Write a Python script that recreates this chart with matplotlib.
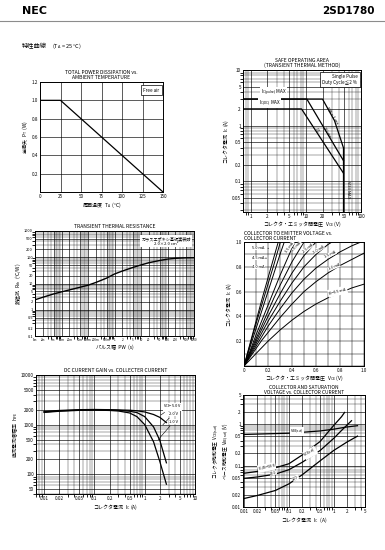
import numpy as np
import matplotlib
matplotlib.use("Agg")
import matplotlib.pyplot as plt
from matplotlib.ticker import NullFormatter

plt.rcParams['font.family'] = ['Noto Sans CJK JP', 'DejaVu Sans']
plt.rcParams['mathtext.fontset'] = 'custom'
plt.rcParams['mathtext.rm'] = 'Noto Sans CJK JP'
plt.rcParams['mathtext.it'] = 'Noto Sans CJK JP'
plt.rcParams['mathtext.bf'] = 'Noto Sans CJK JP:bold'

# --- data ---
# total power dissipation vs ambient temperature
ta = [0, 25, 150]
pt = [1.0, 1.0, 0.0]

# safe operating area
soa_dc_v = [0.7, 8.3, 48]
soa_dc_i = [2.0, 2.0, 0.14]
soa_10ms_v = [0.7, 10.4, 48]
soa_10ms_i = [3.0, 3.0, 0.235]
soa_1ms_v = [0.7, 20, 33, 48]
soa_1ms_i = [3.0, 3.0, 1.23, 0.40]
vceo_v = [48, 48]
vceo_i = [0.40, 0.028]

# transient thermal resistance
pw = [0.001, 0.002, 0.005, 0.01, 0.02, 0.05, 0.1, 0.2, 0.5, 1, 2, 5, 10, 20, 50, 100, 200, 500, 1000]
rth = [2.4, 3.0, 4.0, 4.8, 5.7, 7.2, 8.6, 11, 16, 23, 30, 41, 51, 62, 75, 85, 91, 95, 96]

# collector current vs collector-emitter voltage
vce = [0, 0.05, 0.1, 0.15, 0.2, 0.25, 0.3, 0.4, 0.5, 0.6, 0.7, 0.8, 0.9, 1.0]
nan = np.nan
ib_labels = ['0.5', '1.0', '1.5', '2.0', '2.5', '3.0', '3.5', '4.0', '4.5', '5.0']
ic_curves = [
    [0, 0.05, 0.10, 0.15, 0.20, 0.245, 0.29, 0.37, 0.44, 0.50, 0.55, 0.59, 0.63, 0.66],
    [0, 0.07, 0.14, 0.21, 0.27, 0.33, 0.39, 0.50, 0.60, 0.68, 0.75, 0.81, 0.86, 0.91],
    [0, 0.08, 0.16, 0.24, 0.32, 0.39, 0.46, 0.59, 0.70, 0.79, 0.86, 0.92, 0.97, 1.01],
    [0, 0.09, 0.18, 0.27, 0.36, 0.44, 0.52, 0.67, 0.80, 0.90, 0.98, 1.04, nan, nan],
    [0, 0.10, 0.20, 0.30, 0.40, 0.49, 0.58, 0.75, 0.89, 1.00, 1.10, nan, nan, nan],
    [0, 0.11, 0.22, 0.33, 0.44, 0.55, 0.65, 0.84, 1.00, 1.13, nan, nan, nan, nan],
    [0, 0.12, 0.25, 0.37, 0.49, 0.61, 0.73, 0.95, 1.14, nan, nan, nan, nan, nan],
    [0, 0.15, 0.30, 0.45, 0.60, 0.75, 0.90, 1.18, nan, nan, nan, nan, nan, nan],
    [0, 0.17, 0.34, 0.50, 0.66, 0.82, 0.99, 1.30, nan, nan, nan, nan, nan, nan],
    [0, 0.18, 0.36, 0.54, 0.71, 0.88, 1.05, nan, nan, nan, nan, nan, nan, nan],
]

# dc current gain
ic_h = [0.01, 0.02, 0.05, 0.1, 0.2, 0.3, 0.5, 0.7, 1.0, 1.5, 2.0, 2.7]
hfe_5v = [1850, 1930, 2000, 2020, 2000, 1980, 1950, 1900, 1800, 1600, 1400, 1100]
hfe_2v = [1800, 1890, 1970, 1990, 1970, 1940, 1860, 1750, 1450, 900, 480, 170]
hfe_1v = [1760, 1860, 1940, 1960, 1930, 1880, 1720, 1450, 1000, 450, 180, 63]

# saturation voltages
ic_500 = [0.01, 0.02, 0.05, 0.1, 0.2, 0.5, 1.0, 1.5, 1.75]
vcesat_500 = [0.065, 0.072, 0.088, 0.11, 0.18, 0.38, 0.92, 1.5, 1.9]
ic_200 = [0.01, 0.02, 0.05, 0.1, 0.2, 0.5, 1.0, 1.5, 2.0, 2.5]
vcesat_200 = [0.049, 0.053, 0.062, 0.079, 0.12, 0.23, 0.45, 0.7, 0.95, 1.2]
ic_100 = [0.01, 0.02, 0.05, 0.1, 0.2, 0.5, 1.0, 2.0, 3.4]
vcesat_100 = [0.016, 0.019, 0.025, 0.036, 0.06, 0.13, 0.23, 0.37, 0.51]
ic_be = [0.01, 0.1, 0.5, 1.0, 2.0, 3.4]
vbesat = [0.56, 0.60, 0.68, 0.75, 0.85, 0.91]

W, H = 385, 550
fig = plt.figure(figsize=(W / 100, H / 100), dpi=100)
TS = 3.3   # tick font
LS = 3.6   # label font


def box(l, t, r, b):
    ax = fig.add_axes([l / W, 1 - b / H, (r - l) / W, (b - t) / H])
    for s in ax.spines.values():
        s.set_linewidth(0.7)
    ax.tick_params(length=0, labelsize=TS, pad=1.5)
    return ax


def loggrid(ax):
    ax.grid(which='major', color='k', lw=0.45)
    ax.grid(which='minor', color='k', lw=0.25)
    ax.xaxis.set_minor_formatter(NullFormatter())
    ax.yaxis.set_minor_formatter(NullFormatter())


def wlabel(ax, x, y, s, rot=0, size=TS - 0.5, **kw):
    ax.text(x, y, s, fontsize=size, rotation=rot, ha='center', va='center',
            bbox=dict(boxstyle='square,pad=0.05', fc='w', ec='none'), **kw)


# header
fig.text(22 / W, 1 - 11 / H, 'NEC', fontsize=8, fontweight='bold', family='DejaVu Sans', va='center')
fig.text(375 / W, 1 - 11 / H, '2SD1780', fontsize=7.5, fontweight='bold', family='DejaVu Sans',
         va='center', ha='right')
fig.add_artist(plt.Line2D([0, 1], [1 - 21 / H, 1 - 21 / H], color='0.55', lw=0.8))
fig.text(22 / W, 1 - 46 / H, '特性曲線', fontsize=4.5, va='center')
fig.text(52 / W, 1 - 46 / H, r'(T$_{\rm A}$ = 25 °C)', fontsize=4.0, va='center')

# 1. total power dissipation
ax = box(40, 82, 163, 192)
ax.plot(ta, pt, color='k', lw=0.9)
ax.set_xlim(0, 150)
ax.set_ylim(0, 1.2)
ax.set_xticks([0, 25, 50, 75, 100, 125, 150])
ax.set_yticks([0, 0.2, 0.4, 0.6, 0.8, 1.0, 1.2])
ax.set_yticklabels(['', '0.2', '0.4', '0.6', '0.8', '1.0', '1.2'])
ax.grid(color='k', lw=0.45)
ax.set_title('TOTAL POWER DISSIPATION vs.\nAMBIENT TEMPERATURE', fontsize=LS, pad=2, linespacing=1.0)
ax.set_xlabel(r'周囲温度  T$_{\rm A}$  (°C)', fontsize=LS, labelpad=1)
ax.set_ylabel(r'全損失  P$_{\rm T}$  (W)', fontsize=LS, labelpad=1)
ax.text(0.97, 0.95, 'Free air', transform=ax.transAxes, fontsize=TS, ha='right', va='top',
        bbox=dict(boxstyle='square,pad=0.5', fc='w', ec='k', lw=0.5))

# 2. safe operating area
ax = box(243, 70, 361, 212)
ax.set_xscale('log')
ax.set_yscale('log')
ax.plot(soa_dc_v, soa_dc_i, color='k', lw=0.9)
ax.plot(soa_10ms_v, soa_10ms_i, color='k', lw=0.9)
ax.plot(soa_1ms_v, soa_1ms_i, color='k', lw=0.9)
ax.plot(vceo_v, vceo_i, color='k', lw=0.9)
ax.set_xlim(0.72, 100)
ax.set_ylim(0.028, 10)
ax.set_xticks([1, 2, 5, 10, 20, 50, 100])
ax.set_xticklabels(['1', '2', '5', '10', '20', '50', '100'])
ax.set_yticks([0.05, 0.1, 0.2, 0.5, 1, 2, 5, 10])
ax.set_yticklabels(['0.05', '0.1', '0.2', '0.5', '1', '2', '5', '10'])
loggrid(ax)
ax.set_title('SAFE OPERATING AREA\n(TRANSIENT THERMAL METHOD)', fontsize=LS, pad=2, linespacing=1.0)
ax.set_xlabel(r'コレクタ・エミッタ間電圧  V$_{\rm CE}$ (V)', fontsize=LS, labelpad=0.5)
ax.set_ylabel(r'コレクタ電流  I$_{\rm C}$ (A)', fontsize=LS, labelpad=1)
ax.text(0.97, 0.97, 'Single Pulse\nDuty Cycle≦2 %', transform=ax.transAxes, fontsize=TS, ha='right',
        va='top', linespacing=1.1, bbox=dict(boxstyle='square,pad=0.5', fc='w', ec='k', lw=0.5))
ax.text(1.5, 3.25, r'I$_{\rm C(pulse)}$ MAX', fontsize=TS, va='bottom',
        bbox=dict(boxstyle='square,pad=0.1', fc='w', ec='none'))
ax.text(1.4, 2.15, r'I$_{\rm C(DC)}$ MAX', fontsize=TS, va='bottom',
        bbox=dict(boxstyle='square,pad=0.1', fc='w', ec='none'))
ax.text(30, 1.5, 'PW = 1 ms', fontsize=TS - 0.3, rotation=-58, ha='center', va='center')
ax.text(24, 0.75, '10 ms', fontsize=TS - 0.3, rotation=-58, ha='center', va='center')
ax.text(16, 0.8, 'DC', fontsize=TS - 0.3, rotation=-58, ha='center', va='center')
ax.text(58, 0.07, r'V$_{\rm CEO}$ MAX', fontsize=TS - 0.3, rotation=-90, ha='center', va='center')

# 3. transient thermal resistance
ax = box(35, 231, 194, 336)
ax.set_xscale('log')
ax.set_yscale('log')
ax.plot(pw, rth, color='k', lw=1.0)
ax.set_xlim(0.001, 1000)
ax.set_ylim(0.1, 1000)
ax.set_xticks(pw)
ax.set_xticklabels(['1m', '2m', '5m', '10m', '20m', '50m', '100m', '200m', '500m', '1', '2', '5',
                    '10', '20', '50', '100', '200', '500', '1000'], fontsize=TS - 1.1)
yt = [0.1, 0.2, 0.5, 1, 2, 5, 10, 20, 50, 100, 200, 500, 1000]
ax.set_yticks(yt)
ax.set_yticklabels(['0.1', '0.2', '0.5', '1', '2', '5', '10', '20', '50', '100', '200', '500', '1000'],
                   fontsize=TS - 0.5)
loggrid(ax)
ax.set_title('TRANSIENT THERMAL RESISTANCE', fontsize=LS, pad=2)
ax.set_xlabel('パルス幅  PW  (s)', fontsize=LS, labelpad=1)
ax.set_ylabel(r'熱抵抗  R$_{\rm th}$  (°C/W)', fontsize=LS, labelpad=1)
ax.text(0.98, 0.95, 'ガラスエポキシ基板実装時\n2.0×2.0 cm²', transform=ax.transAxes, fontsize=TS - 0.3,
        ha='right', va='top', multialignment='center', linespacing=1.2,
        bbox=dict(boxstyle='square,pad=0.4', fc='w', ec='none'))

# 4. collector current vs collector-emitter voltage
ax = box(244, 242, 364, 366)
for ic in ic_curves:
    ax.plot(vce, ic, color='k', lw=0.7)
ax.set_xlim(0, 1.0)
ax.set_ylim(0, 1.0)
ax.set_xticks([0, 0.1, 0.2, 0.3, 0.4, 0.5, 0.6, 0.7, 0.8, 0.9, 1.0])
ax.set_xticklabels(['0', '', '0.2', '', '0.4', '', '0.6', '', '0.8', '', '1.0'])
ax.set_yticks([0, 0.1, 0.2, 0.3, 0.4, 0.5, 0.6, 0.7, 0.8, 0.9, 1.0])
ax.set_yticklabels(['', '', '0.2', '', '0.4', '', '0.6', '', '0.8', '', '1.0'])
ax.grid(color='k', lw=0.35)
ax.set_title('COLLECTOR TO EMITTER VOLTAGE vs.\nCOLLECTOR CURRENT', fontsize=LS, pad=1.5,
             linespacing=1.0, loc='left')
ax.set_xlabel(r'コレクタ・エミッタ間電圧  V$_{\rm CE}$ (V)', fontsize=LS, labelpad=0.5)
ax.set_ylabel(r'コレクタ電流  I$_{\rm C}$ (A)', fontsize=LS, labelpad=1)
lab_pos = [(0.78, 0.60, 14), (0.75, 0.80, 22), (0.72, 0.90, 25), (0.62, 0.94, 32),
           (0.53, 0.95, 40), (0.44, 0.96, 48), (0.38, 0.96, 55)]
for (x, y, r), s in zip(lab_pos, ib_labels[:7]):
    txt = s + ' mA'
    if s == '0.5':
        txt = r'I$_{\rm B}$=0.5 mA'
    wlabel(ax, x, y, txt, rot=r)
for y, s in zip([0.95, 0.87, 0.80], ['5.0', '4.5', '4.0']):
    ax.annotate(s + ' mA', xy=(0.23 - (0.95 - y) * 0.5, y), xytext=(0.07, y), fontsize=TS - 0.5,
                va='center', arrowprops=dict(arrowstyle='-', lw=0.4),
                bbox=dict(boxstyle='square,pad=0.05', fc='w', ec='none'))

# 5. dc current gain
ax = box(36, 375, 195, 494)
ax.set_xscale('log')
ax.set_yscale('log')
ax.plot(ic_h, hfe_5v, color='k', lw=0.9)
ax.plot(ic_h, hfe_2v, color='k', lw=0.9)
ax.plot(ic_h, hfe_1v, color='k', lw=0.9)
ax.set_xlim(0.0069, 10)
ax.set_ylim(40, 10000)
ax.set_xticks([0.01, 0.02, 0.05, 0.1, 0.2, 0.5, 1, 2, 5, 10])
ax.set_xticklabels(['0.01', '0.02', '0.05', '0.1', '0.2', '0.5', '1', '2', '5', '10'])
ax.set_yticks([50, 100, 200, 500, 1000, 2000, 5000, 10000])
ax.set_yticklabels(['50', '100', '200', '500', '1000', '2000', '5000', '10000'])
loggrid(ax)
ax.set_title('DC CURRENT GAIN vs. COLLECTER CURRENT', fontsize=LS, pad=2)
ax.set_xlabel(r'コレクタ電流  I$_{\rm C}$ (A)', fontsize=LS, labelpad=1)
ax.set_ylabel(r'直流電流増幅率  h$_{\rm FE}$', fontsize=LS, labelpad=1)
for (x, y), (tx, ty), s in zip([(1.9, 1450), (2.1, 900), (1.7, 450)],
                               [(2.3, 2300), (3.0, 1650), (3.1, 1150)],
                               [r'V$_{\rm CE}$=5.0 V', '2.0 V', '1.0 V']):
    ax.annotate(s, xy=(x, y), xytext=(tx, ty), fontsize=TS - 0.4, va='center',
                arrowprops=dict(arrowstyle='-', lw=0.4),
                bbox=dict(boxstyle='square,pad=0.05', fc='w', ec='none'))

# 6. saturation voltage
ax = box(243, 395, 365, 507)
ax.set_xscale('log')
ax.set_yscale('log')
ax.plot(ic_500, vcesat_500, color='k', lw=0.9)
ax.plot(ic_200, vcesat_200, color='k', lw=0.9)
ax.plot(ic_100, vcesat_100, color='k', lw=0.9)
ax.plot(ic_be, vbesat, color='k', lw=0.9)
ax.set_xlim(0.0095, 5)
ax.set_ylim(0.01, 5)
ax.set_xticks([0.01, 0.02, 0.05, 0.1, 0.2, 0.5, 1, 2, 5])
ax.set_xticklabels(['0.01', '0.02', '0.05', '0.1', '0.2', '0.5', '1', '2', '5'])
ax.set_yticks([0.01, 0.02, 0.05, 0.1, 0.2, 0.5, 1, 2, 5])
ax.set_yticklabels(['0.01', '0.02', '0.05', '0.1', '0.2', '0.5', '1', '2', '5'])
loggrid(ax)
ax.set_title('COLLECTOR AND SATURATION\nVOLTAGE vs. COLLECTOR CURRENT', fontsize=LS - 0.1, pad=1,
             linespacing=0.95)
ax.set_xlabel(r'コレクタ電流  I$_{\rm C}$  (A)', fontsize=LS, labelpad=1)
ax.set_ylabel(r'コレクタ飽和電圧  V$_{\rm CE(sat)}$' + '\n' + r'ベース飽和電圧  V$_{\rm BE(sat)}$ (V)',
              fontsize=LS - 0.2, labelpad=1, linespacing=1.1)
wlabel(ax, 0.15, 0.66, r'V$_{\rm BE(sat)}$', size=TS - 0.4)
wlabel(ax, 0.3, 0.2, r'V$_{\rm CE(sat)}$', rot=30, size=TS - 0.4)
wlabel(ax, 0.032, 0.09, r'I$_{\rm C}$/I$_{\rm B}$=500', rot=12)
wlabel(ax, 0.045, 0.066, '200', rot=10)
wlabel(ax, 0.14, 0.05, '100', rot=30)

fig.savefig('out.png', dpi=100, facecolor='w')
